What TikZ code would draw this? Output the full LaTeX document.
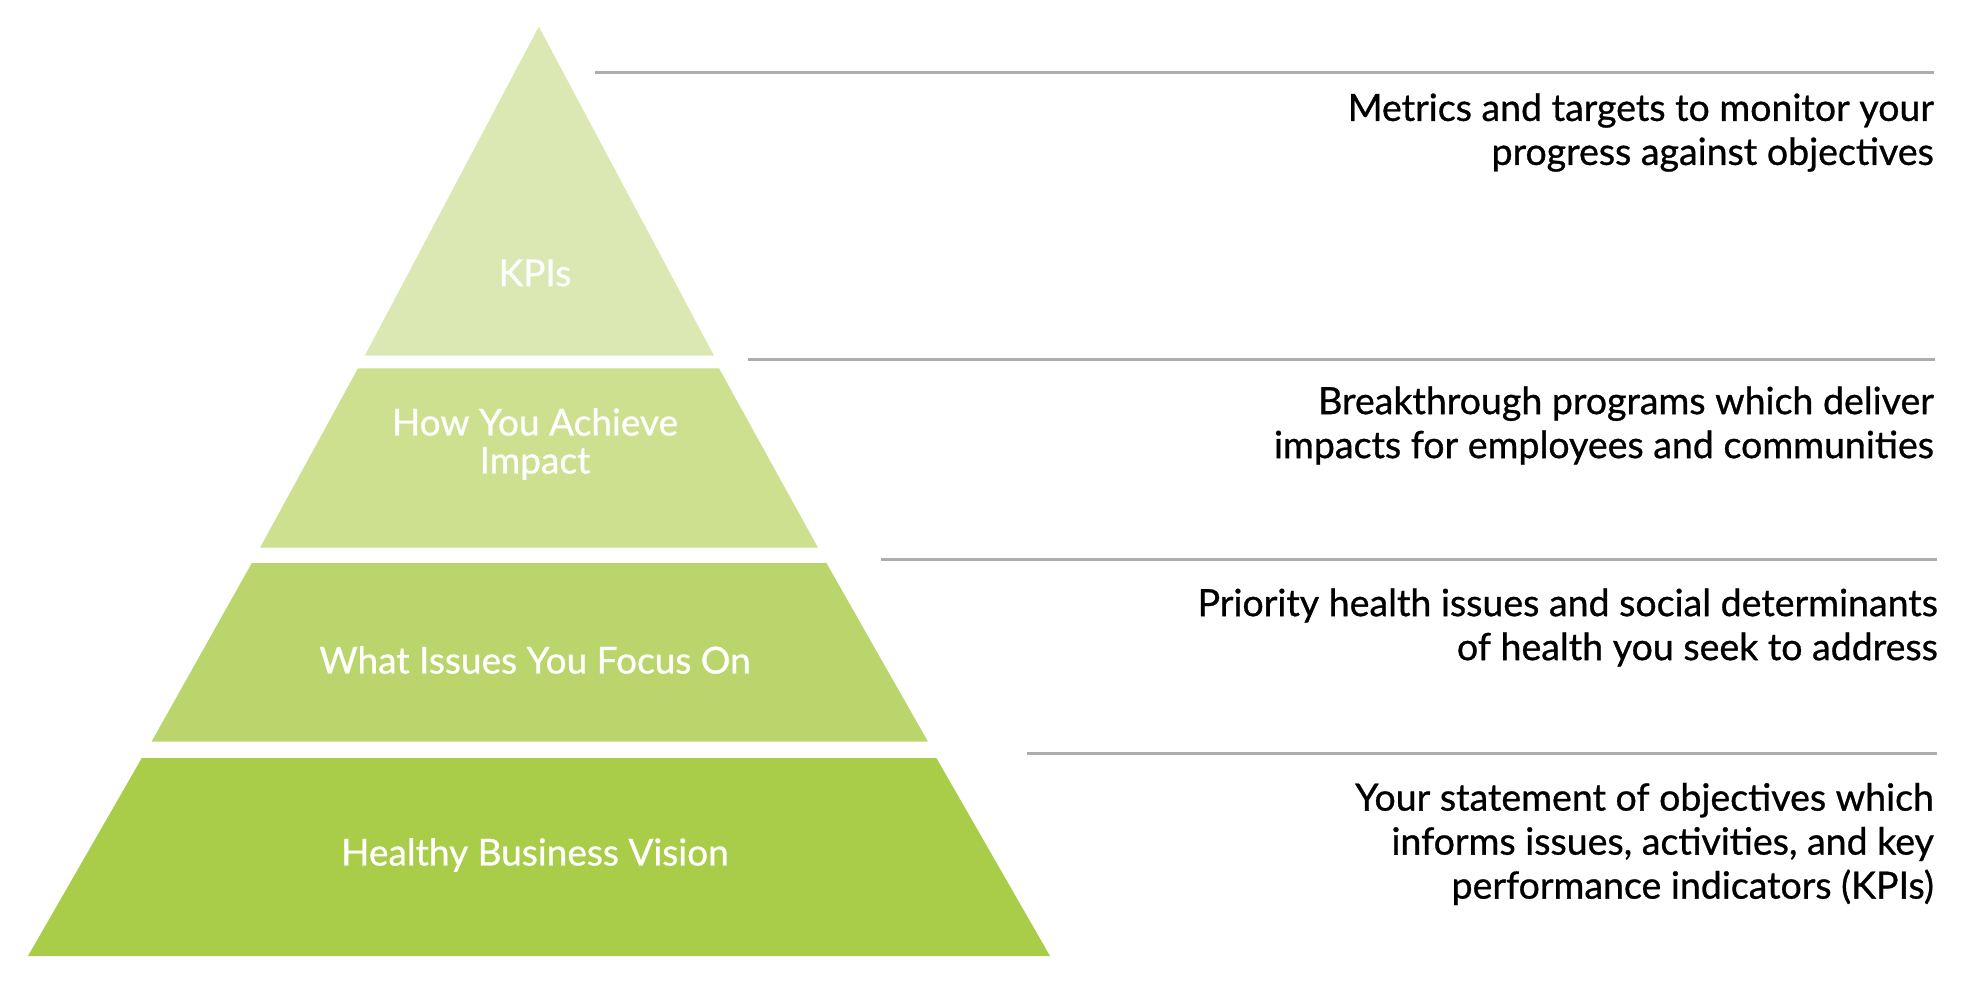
\documentclass[tikz,border=0pt]{standalone}
\usepackage{fontspec}
\setmainfont{Lato}
\newfontfamily\medfont[FakeBold=0.8]{Lato}
\definecolor{tierA}{HTML}{DCE8B3}
\definecolor{tierB}{HTML}{CCE08F}
\definecolor{tierC}{HTML}{BAD56C}
\definecolor{tierD}{HTML}{A9CD48}
\definecolor{rulegray}{HTML}{ADADAD}
\tikzset{
  tierlabel/.style={text=white, align=center, inner sep=0pt, font=\medfont\fontsize{37}{38}\selectfont},
  desc/.style={text=black, align=right, anchor=east, inner sep=0pt, font=\medfont\fontsize{37.5}{44}\selectfont},
  rule/.style={draw=rulegray, line width=3pt},
}
\begin{document}
\begin{tikzpicture}[x=1pt,y=-1pt]
\useasboundingbox (0,0) rectangle (1986,994);
% pyramid tiers
\fill[tierA] (538.8,26.6) -- (714,355.6) -- (364.8,355.6) -- cycle;
\fill[tierB] (358,368.3) -- (719,368.3) -- (818,547.7) -- (260,547.7) -- cycle;
\fill[tierC] (251.8,563) -- (826.4,563) -- (928,741.7) -- (151.5,741.7) -- cycle;
\fill[tierD] (141.7,758.2) -- (936.5,758.2) -- (1050,956) -- (28,956) -- cycle;
% tier labels
\node[tierlabel] (kpi) at (535,273) {KPIs};
\node[tierlabel] (how) at (535,444) {How You Achieve\\Impact};
\node[tierlabel] (what) at (535,660) {What Issues You Focus On};
\node[tierlabel] (vision) at (535,855) {Healthy Business Vision};
% rules
\coordinate (r1a) at (595,72);   \coordinate (r1b) at (1934,72);
\coordinate (r2a) at (748,359.5); \coordinate (r2b) at (1935,359.5);
\coordinate (r3a) at (881,559);  \coordinate (r3b) at (1937,559);
\coordinate (r4a) at (1027,753); \coordinate (r4b) at (1937,753);
\draw[rule] (r1a) -- (r1b);
\draw[rule] (r2a) -- (r2b);
\draw[rule] (r3a) -- (r3b);
\draw[rule] (r4a) -- (r4b);
% descriptions
\node[desc] (d1) at (1934,132.5) {Metrics and targets to monitor your\\progress against objectives};
\node[desc] (d2) at (1934,425.5) {Breakthrough programs which deliver\\impacts for employees and communities};
\node[desc] (d3) at (1938,627.5) {Priority health issues and social determinants\\of health you seek to address};
\node[desc] (d4) at (1934,844) {Your statement of objectives which\\informs issues, activities, and key\\performance indicators (KPIs)};
\end{tikzpicture}
\end{document}
